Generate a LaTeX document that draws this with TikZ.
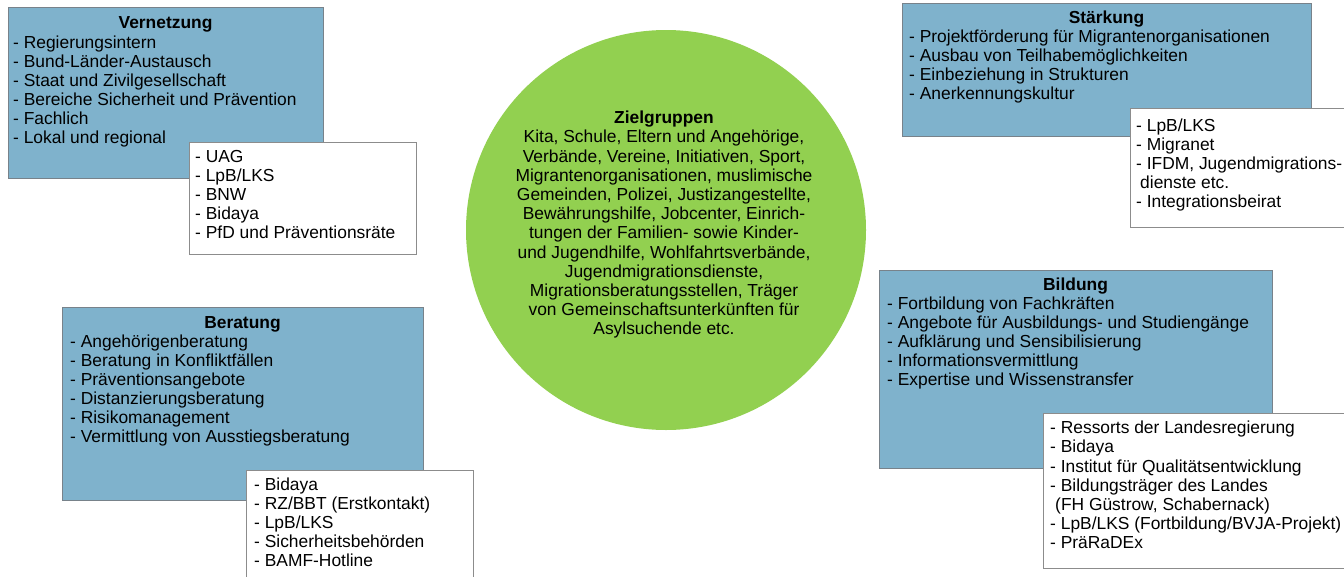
\documentclass[tikz,border=0pt]{standalone}
\usepackage{fontspec}
\setmainfont{Liberation Sans}
\definecolor{boxblue}{RGB}{127,178,204}
\definecolor{zgreen}{RGB}{146,208,80}
\definecolor{boxborder}{RGB}{120,130,138}
\definecolor{wborder}{RGB}{140,140,140}
\begin{document}
\begin{tikzpicture}[x=1pt,y=-1pt,
  bluebox/.style={draw=boxborder, fill=boxblue, line width=1pt, anchor=north west, inner sep=0pt},
  whitebox/.style={draw=wborder, fill=white, line width=1pt, anchor=north west, inner sep=0pt},
  listtext/.style={anchor=north west, inner sep=0pt, align=left, font=\fontsize{17.4}{19}\selectfont},
  titletext/.style={anchor=base, inner sep=0pt, font=\fontsize{17.4}{19}\selectfont\bfseries},
  circtext/.style={anchor=north, inner sep=0pt, align=center, font=\fontsize{17.4}{19.2}\selectfont},
]
\useasboundingbox (0,0) rectangle (1344,576);
\clip (0,0) rectangle (1344,576);
\fill[white] (0,0) rectangle (1344,576);

% Vernetzung
\node[bluebox, minimum width=315pt, minimum height=171pt] (vern) at (8,7) {};
\node[titletext] (verntitle) at (165.5,28.5) {Vernetzung};
\node[listtext] (vernlist) at (13,34.5) {\rule{0pt}{14pt}- Regierungsintern\\- Bund-Länder-Austausch\\- Staat und Zivilgesellschaft\\- Bereiche Sicherheit und Prävention\\- Fachlich\\- Lokal und regional};
\node[whitebox, minimum width=227pt, minimum height=112pt] (vernw) at (189,142) {};
\node[listtext] (vernwlist) at (195,148.5) {\rule{0pt}{14pt}- UAG\\- LpB/LKS\\- BNW\\- Bidaya\\- PfD und Präventionsräte};

% Staerkung
\node[bluebox, minimum width=409pt, minimum height=133pt] (staerk) at (902,3) {};
\node[titletext] (staerktitle) at (1106.5,23.5) {Stärkung};
\node[listtext] (staerklist) at (909,28.5) {\rule{0pt}{14pt}- Projektförderung für Migrantenorganisationen\\- Ausbau von Teilhabemöglichkeiten\\- Einbeziehung in Strukturen\\- Anerkennungskultur};
\node[whitebox, minimum width=230pt, minimum height=119pt] (staerkw) at (1130,108) {};
\node[listtext] (staerkwlist) at (1136,117.5) {\rule{0pt}{14pt}- LpB/LKS\\- Migranet\\- IFDM, Jugendmigrations-\\\hspace*{4pt}dienste etc.\\- Integrationsbeirat};

% Zielgruppen
\node[circle, fill=zgreen, draw=none, minimum size=400pt, inner sep=0pt] (ziel) at (666,230) {};
\node[circtext] (zieltext) at (664,109.5) {\rule{0pt}{14pt}\textbf{Zielgruppen}\\Kita, Schule, Eltern und Angehörige,\\Verbände, Vereine, Initiativen, Sport,\\Migrantenorganisationen, muslimische\\Gemeinden, Polizei, Justizangestellte,\\Bewährungshilfe, Jobcenter, Einrich-\\tungen der Familien- sowie Kinder-\\und Jugendhilfe, Wohlfahrtsverbände,\\Jugendmigrationsdienste,\\Migrationsberatungsstellen, Träger\\von Gemeinschaftsunterkünften für\\Asylsuchende etc.};

% Beratung
\node[bluebox, minimum width=361pt, minimum height=193pt] (berat) at (62,307) {};
\node[titletext] (berattitle) at (242.5,328.5) {Beratung};
\node[listtext] (beratlist) at (70,333.5) {\rule{0pt}{14pt}- Angehörigenberatung\\- Beratung in Konfliktfällen\\- Präventionsangebote\\- Distanzierungsberatung\\- Risikomanagement\\- Vermittlung von Ausstiegsberatung};
\node[whitebox, minimum width=227pt, minimum height=130pt] (beratw) at (246,470) {};
\node[listtext] (beratwlist) at (254,476.5) {\rule{0pt}{14pt}- Bidaya\\- RZ/BBT (Erstkontakt)\\- LpB/LKS\\- Sicherheitsbehörden\\- BAMF-Hotline};

% Bildung
\node[bluebox, minimum width=393pt, minimum height=198pt] (bild) at (879,270) {};
\node[titletext] (bildtitle) at (1075.5,290.5) {Bildung};
\node[listtext] (bildlist) at (887,295.5) {\rule{0pt}{14pt}- Fortbildung von Fachkräften\\- Angebote für Ausbildungs- und Studiengänge\\- Aufklärung und Sensibilisierung\\- Informationsvermittlung\\- Expertise und Wissenstransfer};
\node[whitebox, minimum width=310pt, minimum height=155pt] (bildw) at (1043,413) {};
\node[listtext, font=\fontsize{17.4}{19.2}\selectfont] (bildwlist) at (1050,419.5) {\rule{0pt}{14pt}- Ressorts der Landesregierung\\- Bidaya\\- Institut für Qualitätsentwicklung\\- Bildungsträger des Landes\\\hspace*{5pt}(FH Güstrow, Schabernack)\\- LpB/LKS (Fortbildung/BVJA-Projekt)\\- PräRaDEx};
\end{tikzpicture}
\end{document}
